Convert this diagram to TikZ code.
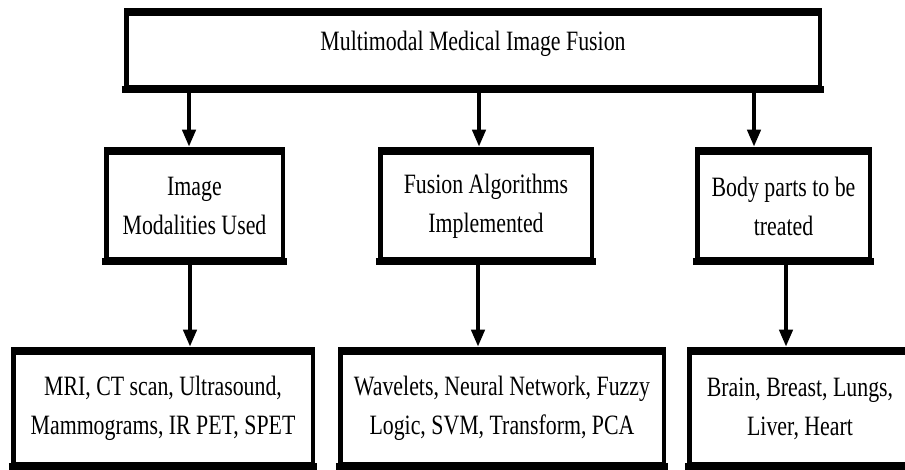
\documentclass[tikz,border=0pt]{standalone}
\usepackage{fontspec}
\setmainfont[FakeStretch=0.78]{Liberation Serif}
\usetikzlibrary{arrows.meta}

\begin{document}
\begin{tikzpicture}[x=1pt,y=-1pt,
  box/.style={draw,line width=4.5pt,inner sep=0pt,align=center,
    font=\fontsize{28}{39}\selectfont},
  midbox/.style={box,minimum height=107pt},
  lowbox/.style={box,minimum height=112pt},
  edge/.style={line width=7pt,shorten <=-2.25pt,shorten >=-2.25pt},
  arr/.style={line width=4pt,shorten <=3.5pt,shorten >=3.5pt,
    -{Triangle[length=17pt,width=13pt]}}]
\useasboundingbox (0,0) rectangle (905,470);

% top
\node[box,minimum width=693.5pt,minimum height=74pt,text height=19pt,text depth=19pt]
  (mmif) at (473,50.5) {Multimodal Medical Image Fusion};

% middle row
\node[midbox,minimum width=176.5pt] (img)  at (194.5,206) {Image\\Modalities Used};
\node[midbox,minimum width=211.5pt] (alg)  at (486,206)   {Fusion Algorithms\\Implemented};
\node[midbox,minimum width=172.5pt] (body) at (783.5,206) {Body parts to be\\treated};

% bottom row
\node[lowbox,minimum width=299.5pt] (mod)   at (163,408.5) {MRI, CT scan, Ultrasound,\\Mammograms, IR PET, SPET};
\node[lowbox,minimum width=323.5pt] (algs)  at (502,408.5) {Wavelets, Neural Network, Fuzzy\\Logic, SVM, Transform, PCA};
\node[lowbox,minimum width=221.5pt] (parts) at (800,408.5) {Brain, Breast, Lungs,\\Liver, Heart};

\foreach \n in {mmif,img,alg,body,mod,algs,parts}
  \draw[edge] (\n.north west) -- (\n.north east) (\n.south west) -- (\n.south east);

\draw[arr] (mmif.south -| 189,0) -- (img.north -| 189,0);
\draw[arr] (mmif.south -| 479,0) -- (alg.north -| 479,0);
\draw[arr] (mmif.south -| 754,0) -- (body.north -| 754,0);

\draw[arr] (img.south -| 190,0)  -- (mod.north -| 190,0);
\draw[arr] (alg.south -| 478,0)  -- (algs.north -| 478,0);
\draw[arr] (body.south -| 786,0) -- (parts.north -| 786,0);

\end{tikzpicture}
\end{document}
